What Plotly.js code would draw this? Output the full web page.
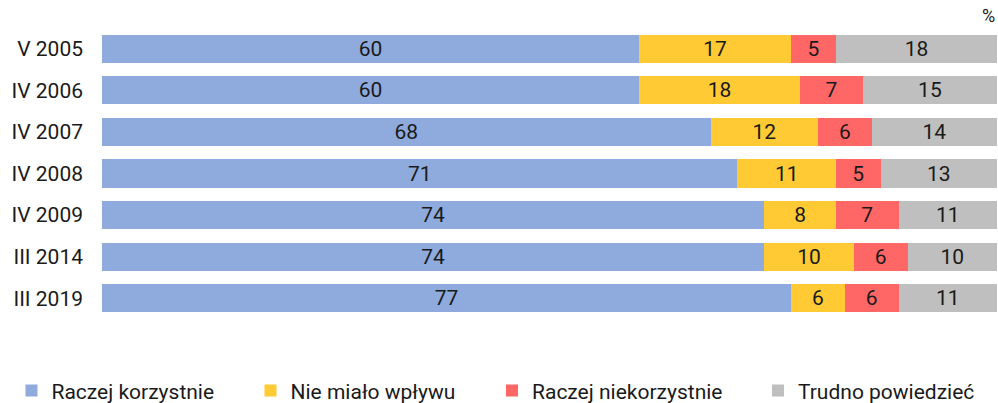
<!DOCTYPE html>
<html>
<head>
<meta charset="utf-8">
<script src="https://cdn.plot.ly/plotly-3.0.1.min.js"></script>
<style>html,body{margin:0;padding:0;background:#fff;}#chart{width:998px;height:403px;}</style>
</head>
<body>
<div id="chart"></div>
<script>
const categories = ["V 2005", "IV 2006", "IV 2007", "IV 2008", "IV 2009", "III 2014", "III 2019"];
const seriesNames = ["Raczej korzystnie", "Nie miało wpływu", "Raczej niekorzystnie", "Trudno powiedzieć"];
const korzystnie = [60, 60, 68, 71, 74, 74, 77];
const brakWplywu = [17, 18, 12, 11, 8, 10, 6];
const niekorzystnie = [5, 7, 6, 5, 7, 6, 6];
const trudno = [18, 15, 14, 13, 11, 10, 11];
const colors = ["#8faadc", "#ffca33", "#ff6666", "#bfbfbf"];
const legendX = [0.0115, 0.251, 0.493, 0.7595];

const allValues = [korzystnie, brakWplywu, niekorzystnie, trudno];
const legendIds = ["legend", "legend2", "legend3", "legend4"];
const traces = allValues.map((vals, i) => ({
  type: "bar",
  orientation: "h",
  name: seriesNames[i],
  legend: legendIds[i],
  y: categories,
  x: vals,
  text: vals.map(String),
  textposition: "inside",
  insidetextanchor: "middle",
  textangle: 0,
  constraintext: "none",
  textfont: {family: "Roboto, sans-serif", size: 21, color: "#1a1a1a"},
  marker: {color: colors[i], line: {width: 0}},
  hoverinfo: "none"
}));

const layout = {
  width: 998,
  height: 403,
  barmode: "stack",
  bargap: 0.32,
  uniformtext: {mode: false},
  margin: {l: 102, r: 1, t: 28, b: 84},
  paper_bgcolor: "#ffffff",
  plot_bgcolor: "#ffffff",
  font: {family: "Roboto, sans-serif", size: 21, color: "#1a1a1a"},
  xaxis: {range: [0, 100], visible: false, fixedrange: true},
  yaxis: {autorange: "reversed", type: "category", showline: false, showgrid: false, zeroline: false, ticks: "", ticklen: 0, tickfont: {size: 21, color: "#1a1a1a"}, automargin: false, ticklabelstandoff: 18},
  showlegend: true,
  annotations: [{
    text: "%", xref: "paper", yref: "paper", x: 1, y: 1, xanchor: "right", yanchor: "bottom",
    yshift: 0, showarrow: false, font: {size: 18, color: "#1a1a1a"}
  }]
};
legendIds.forEach((id, i) => {
  layout[id] = {
    orientation: "h",
    xref: "container", yref: "container",
    x: legendX[i], y: 0.03, xanchor: "left", yanchor: "middle",
    font: {size: 21, color: "#1a1a1a"},
    bgcolor: "rgba(0,0,0,0)",
    itemclick: false, itemdoubleclick: false
  };
});

Plotly.newPlot("chart", traces, layout, {displayModeBar: false, staticPlot: true});
</script>
</body>
</html>
